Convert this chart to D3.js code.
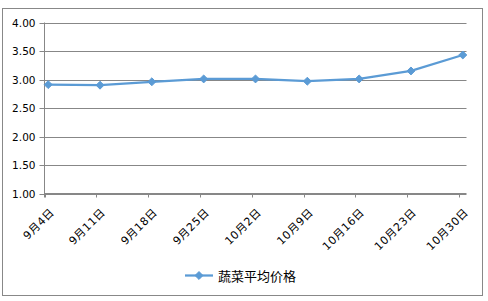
<!DOCTYPE html>
<html><head><meta charset="utf-8">
<script src="https://cdn.jsdelivr.net/npm/d3@7"></script>
<style>body{margin:0;background:#fff}svg{display:block}</style>
</head><body>
<script>
const categories = ["9月4日","9月11日","9月18日","9月25日","10月2日","10月9日","10月16日","10月23日","10月30日"];
const values = [2.91, 2.90, 2.96, 3.01, 3.01, 2.97, 3.01, 3.15, 3.43];
const yTicks = [1.00, 1.50, 2.00, 2.50, 3.00, 3.50, 4.00];
const seriesName = "蔬菜平均价格";

(function () {
const W = 488, H = 301;
const svg = d3.select("body").append("svg").attr("width", W).attr("height", H);
svg.append("rect").attr("x", 2.5).attr("y", 8.5).attr("width", 480).attr("height", 287)
  .attr("fill", "#fff").attr("stroke", "#888").attr("stroke-width", 1);

const parse = s => { const m = s.match(/(\d+)月(\d+)日/); return new Date(2013, +m[1]-1, +m[2]); };
const dates = categories.map(parse);
const dayMs = 864e5;
const pl = 44.5, pr = 466.5, pt = 22.5, pb = 193.5;
const x = d3.scaleTime().domain([dates[0], new Date(+dates[dates.length-1] + dayMs)]).range([pl, pr]);
const y = d3.scaleLinear().domain([1, 4]).range([pb, pt]);
const mid = d => new Date(+d + dayMs/2);

// grid
svg.append("g").selectAll("line").data(yTicks).join("line")
  .attr("x1", pl).attr("x2", pr)
  .attr("y1", d => Math.round(y(d)) + 0.5).attr("y2", d => Math.round(y(d)) + 0.5)
  .attr("stroke", "#878787").attr("stroke-width", 1);

// y axis
const gy = svg.append("g").attr("transform", `translate(${pl},0)`)
  .call(d3.axisLeft(y).tickValues(yTicks).tickFormat(d3.format(".2f")).tickSize(5).tickPadding(4));
gy.select(".domain").attr("stroke", "#878787").attr("d", `M0,${pt}V${pb + 4}`);
gy.selectAll(".tick line").attr("stroke", "#878787");
gy.selectAll(".tick").attr("transform", d => `translate(0,${Math.round(y(d)) + 0.5})`);
gy.selectAll("text").attr("font-family", "DejaVu Sans, Verdana, sans-serif").attr("font-size", "10.5px").attr("fill", "#000");

// x axis
const gx = svg.append("g").attr("transform", `translate(0,${pb})`)
  .call(d3.axisBottom(x).tickValues(dates).tickFormat((d, i) => categories[i]).tickSize(4));
gx.select(".domain").attr("stroke", "#878787").attr("d", `M${pl},0H${pr}`);
gx.selectAll(".tick line").attr("stroke", "#878787");
gx.selectAll(".tick").attr("transform", d => `translate(${Math.round(x(d)) + 0.5},0)`);
gx.selectAll("text")
  .attr("font-family", "DejaVu Sans, Noto Sans CJK SC, sans-serif")
  .attr("font-size", "11px").attr("fill", "#000").attr("letter-spacing", "0.6px")
  .attr("text-anchor", "end").attr("dominant-baseline", "central")
  .attr("y", 0).attr("dy", 0)
  .attr("transform", "translate(7,17) rotate(-45)");

// line
const line = d3.line().x((d, i) => x(mid(dates[i]))).y(d => y(d));
svg.append("path").datum(values).attr("d", line)
  .attr("fill", "none").attr("stroke", "#5B9BD5").attr("stroke-width", 2.25).attr("stroke-linejoin", "round");
const diamond = d3.symbol().type(d3.symbolDiamond2).size(40);
svg.append("g").selectAll("path").data(values).join("path")
  .attr("d", diamond)
  .attr("transform", (d, i) => `translate(${x(mid(dates[i]))},${y(d)})`)
  .attr("fill", "#5B9BD5").attr("stroke", "#5B9BD5").attr("stroke-width", 1);

// legend
const lg = svg.append("g").attr("transform", "translate(185,275.5)");
lg.append("line").attr("x1", 0).attr("x2", 28).attr("stroke", "#5B9BD5").attr("stroke-width", 2.25);
lg.append("path").attr("d", diamond).attr("transform", "translate(14,0)").attr("fill", "#5B9BD5").attr("stroke", "#5B9BD5");
lg.append("text").attr("x", 33).attr("y", 0).attr("dominant-baseline", "central")
  .attr("font-family", "Noto Sans CJK SC, sans-serif").attr("font-size", "13px").attr("fill", "#000")
  .text(seriesName);
})();
</script>
</body></html>
